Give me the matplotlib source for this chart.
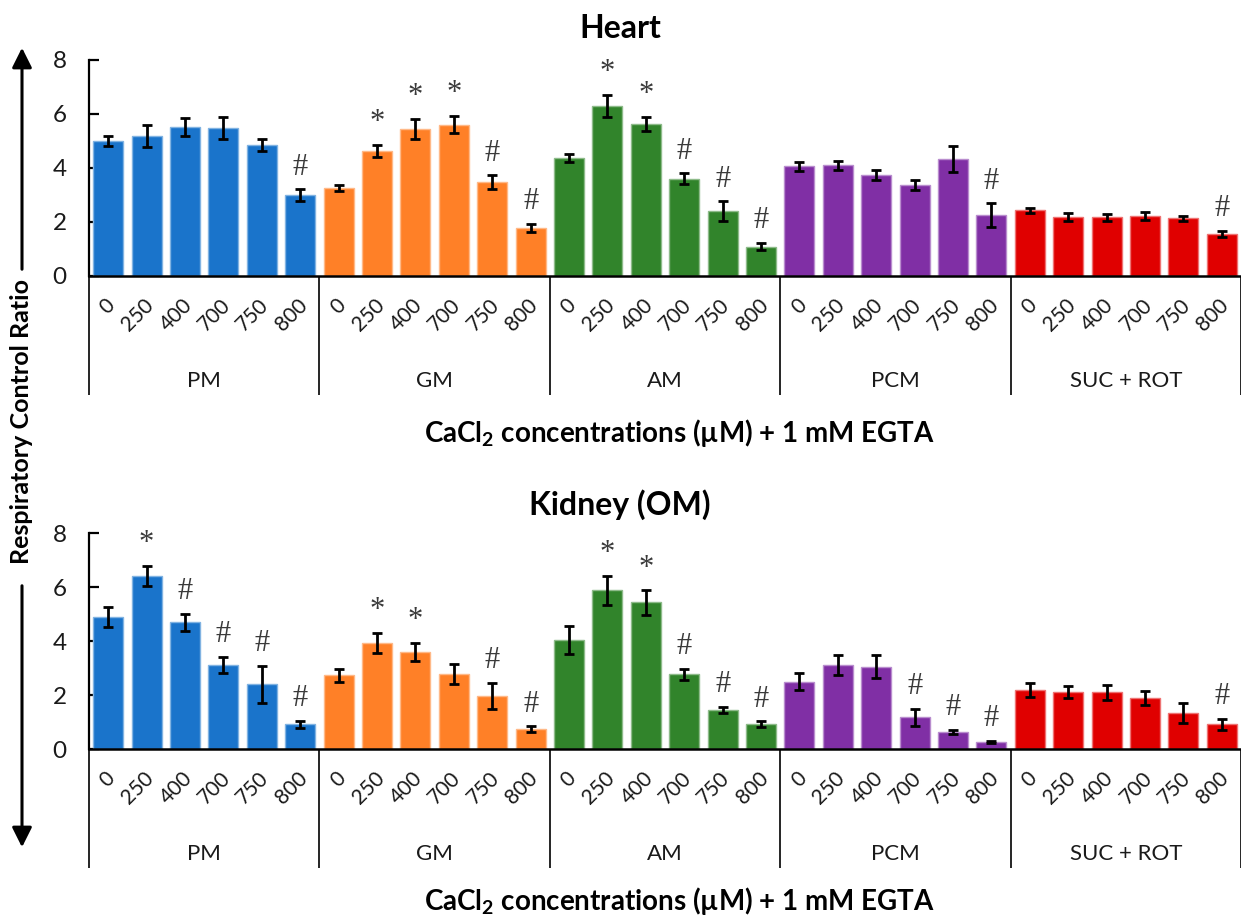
import matplotlib
matplotlib.use("Agg")
import matplotlib.pyplot as plt
import numpy as np
from matplotlib.patches import FancyArrowPatch
from matplotlib.colors import to_rgb
from matplotlib.transforms import ScaledTranslation

plt.rcParams['font.family'] = ['Lato', 'DejaVu Sans']
plt.rcParams['mathtext.fontset'] = 'custom'
plt.rcParams['mathtext.rm'] = 'Lato'
plt.rcParams['mathtext.bf'] = 'Lato:bold'

# ---------------- data ----------------
substrates = ['PM', 'GM', 'AM', 'PCM', 'SUC + ROT']
concentrations = ['0', '250', '400', '700', '750', '800']
colors = ['#1A74CB', '#FF8027', '#31842B', '#802FA5', '#E00000']

heart_PM = [5.00, 5.19, 5.53, 5.49, 4.84, 2.99]
heart_GM = [3.26, 4.64, 5.46, 5.60, 3.48, 1.78]
heart_AM = [4.37, 6.30, 5.64, 3.60, 2.40, 1.09]
heart_PCM = [4.06, 4.10, 3.75, 3.37, 4.33, 2.25]
heart_SUC = [2.44, 2.17, 2.17, 2.22, 2.14, 1.56]

heart_PM_err = [0.20, 0.42, 0.33, 0.41, 0.22, 0.22]
heart_GM_err = [0.12, 0.22, 0.37, 0.32, 0.25, 0.16]
heart_AM_err = [0.14, 0.40, 0.26, 0.20, 0.36, 0.14]
heart_PCM_err = [0.17, 0.17, 0.19, 0.19, 0.48, 0.44]
heart_SUC_err = [0.09, 0.15, 0.12, 0.15, 0.10, 0.10]

heart_PM_sig = ['', '', '', '', '', '#']
heart_GM_sig = ['', '*', '*', '*', '#', '#']
heart_AM_sig = ['', '*', '*', '#', '#', '#']
heart_PCM_sig = ['', '', '', '', '', '#']
heart_SUC_sig = ['', '', '', '', '', '#']

kidney_PM = [4.89, 6.42, 4.69, 3.11, 2.39, 0.91]
kidney_GM = [2.73, 3.93, 3.60, 2.77, 1.96, 0.73]
kidney_AM = [4.04, 5.88, 5.43, 2.76, 1.45, 0.91]
kidney_PCM = [2.50, 3.11, 3.05, 1.18, 0.64, 0.26]
kidney_SUC = [2.19, 2.10, 2.10, 1.88, 1.34, 0.91]

kidney_PM_err = [0.37, 0.37, 0.32, 0.31, 0.68, 0.13]
kidney_GM_err = [0.25, 0.37, 0.34, 0.37, 0.49, 0.11]
kidney_AM_err = [0.51, 0.53, 0.45, 0.20, 0.10, 0.11]
kidney_PCM_err = [0.30, 0.37, 0.43, 0.31, 0.07, 0.04]
kidney_SUC_err = [0.26, 0.22, 0.28, 0.25, 0.36, 0.20]

kidney_PM_sig = ['', '*', '#', '#', '#', '#']
kidney_GM_sig = ['', '*', '*', '', '#', '#']
kidney_AM_sig = ['', '*', '*', '#', '#', '#']
kidney_PCM_sig = ['', '', '', '#', '#', '#']
kidney_SUC_sig = ['', '', '', '', '', '#']

heart_vals = [heart_PM, heart_GM, heart_AM, heart_PCM, heart_SUC]
heart_errs = [heart_PM_err, heart_GM_err, heart_AM_err, heart_PCM_err, heart_SUC_err]
heart_sigs = [heart_PM_sig, heart_GM_sig, heart_AM_sig, heart_PCM_sig, heart_SUC_sig]
kidney_vals = [kidney_PM, kidney_GM, kidney_AM, kidney_PCM, kidney_SUC]
kidney_errs = [kidney_PM_err, kidney_GM_err, kidney_AM_err, kidney_PCM_err, kidney_SUC_err]
kidney_sigs = [kidney_PM_sig, kidney_GM_sig, kidney_AM_sig, kidney_PCM_sig, kidney_SUC_sig]

xlabel = r'CaCl$_{\mathbf{2}}$ concentrations (µM) + 1 mM EGTA'

# ---------------- figure ----------------
W, H = 1241, 918
fig = plt.figure(figsize=(W / 100, H / 100), dpi=100)

left = 89 / W
width = (W - 89) / W
ax_h = 216 / H
ax_top = fig.add_axes([left, (H - 276) / H, width, ax_h])
ax_bot = fig.add_axes([left, (H - 749) / H, width, ax_h])


def lighten(c, f=0.45):
    r, g, b = to_rgb(c)
    return (r + (1 - r) * f, g + (1 - g) * f, b + (1 - b) * f)


def draw_panel(ax, vals, errs, sigs, title, title_y):
    n = len(concentrations)
    for g, (v, e, s) in enumerate(zip(vals, errs, sigs)):
        x = np.arange(n) + g * n
        ax.bar(x, v, width=0.78, color=colors[g], edgecolor=lighten(colors[g]),
               linewidth=1.0, zorder=2)
        ax.errorbar(x, v, yerr=e, fmt='none', ecolor='black', elinewidth=2.0,
                    capsize=3.8, capthick=2.0, zorder=3)
        for xi, vi, ei, si in zip(x, v, e, s):
            if si:
                ax.annotate(si, (xi, vi + ei), xytext=(0, 16),
                            textcoords='offset points', ha='center', va='center',
                            fontsize=22, family='Liberation Serif', color='#3a3a3a')
    total = n * len(vals)
    ax.set_xlim(-0.5, total - 0.5)
    ax.set_ylim(0, 8)
    ax.set_yticks([0, 2, 4, 6, 8])
    ax.tick_params(axis='y', direction='in', length=7, width=1.6, labelsize=17.5,
                   pad=16, labelcolor='#1a1a1a')
    ax.set_xticks(np.arange(total))
    ax.set_xticklabels(concentrations * len(vals), rotation=45, ha='right',
                       va='center', rotation_mode='anchor', fontsize=15,
                       color='#1a1a1a')
    ax.tick_params(axis='x', length=0, pad=19)
    shift = ScaledTranslation(4 / 100, 0, fig.dpi_scale_trans)
    for lbl in ax.get_xticklabels():
        lbl.set_transform(lbl.get_transform() + shift)
    for sp in ['top', 'right']:
        ax.spines[sp].set_visible(False)
    ax.spines['left'].set_linewidth(1.6)
    ax.spines['bottom'].set_linewidth(1.8)
    trans = ax.get_xaxis_transform()
    for k in range(len(vals) + 1):
        xs = k * n - 0.5
        ax.plot([xs, xs], [0, -0.551], transform=trans, color='black',
                lw=1.2, clip_on=False, solid_capstyle='butt')
    for g, name in enumerate(substrates):
        ax.text(g * n + (n - 1) / 2, -0.487, name, transform=trans, ha='center',
                va='center', fontsize=16, color='#1a1a1a')
    fig.text(620 / W, title_y, title, ha='center', va='center', fontsize=23,
             fontweight='bold')


draw_panel(ax_top, heart_vals, heart_errs, heart_sigs, 'Heart', (H - 28) / H)
draw_panel(ax_bot, kidney_vals, kidney_errs, kidney_sigs, 'Kidney (OM)', (H - 505) / H)

fig.text(679 / W, (H - 433) / H, xlabel, ha='center', va='center', fontsize=20,
         fontweight='bold')
fig.text(679 / W, (H - 901) / H, xlabel, ha='center', va='center', fontsize=20,
         fontweight='bold')

fig.text(22 / W, (H - 422) / H, 'Respiratory Control Ratio', rotation=90,
         ha='center', va='center', fontsize=18, fontweight='bold')

arr_up = FancyArrowPatch((22 / W, (H - 272) / H), (22 / W, (H - 45) / H),
                         transform=fig.transFigure, arrowstyle='-|>,head_length=8,head_width=4',
                         mutation_scale=1.5, color='black', lw=2.2)
arr_dn = FancyArrowPatch((22 / W, (H - 583) / H), (22 / W, (H - 850) / H),
                         transform=fig.transFigure, arrowstyle='-|>,head_length=8,head_width=4',
                         mutation_scale=1.5, color='black', lw=2.2)
fig.add_artist(arr_up)
fig.add_artist(arr_dn)

fig.savefig('out.png', dpi=100)
